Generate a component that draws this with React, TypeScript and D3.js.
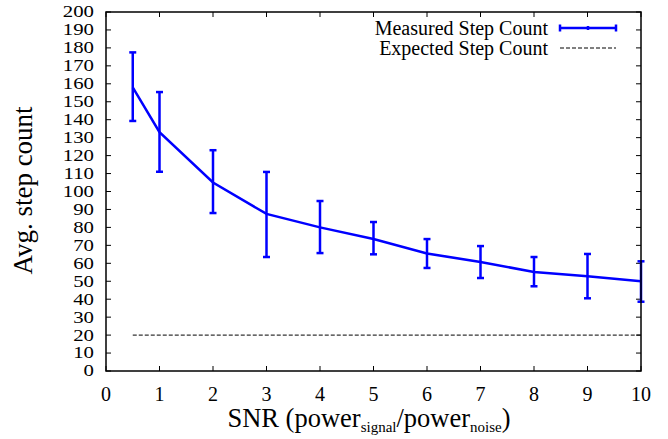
import React from "react";
import * as d3 from "d3";

const snr = [0.5, 1, 2, 3, 4, 5, 6, 7, 8, 9, 10];
const measured = [158, 133, 105, 87.5, 80, 73.5, 65.5, 60.7, 55.2, 52.8, 50];
const errLow = [139.3, 111, 88, 63.5, 65.7, 65, 57.4, 51.8, 47.2, 40.5, 38.6];
const errHigh = [177.5, 155.4, 123, 110.9, 94.7, 83, 73.5, 69.6, 63.5, 65.2, 61.1];
const expectedX = [0.5, 10];
const expectedY = [20, 20];
const xTicks = [0, 1, 2, 3, 4, 5, 6, 7, 8, 9, 10];
const yTicks = d3.range(0, 201, 10);

const W = 668, H = 439;
const L = 106, R = 641, T = 12, B = 371;
const font = "'Liberation Serif', 'Times New Roman', serif";

export default function App() {
  const x = d3.scaleLinear().domain([0, 10]).range([L, R]);
  const y = d3.scaleLinear().domain([0, 200]).range([B, T]);
  const line = d3.line<number>().x((_, i) => x(snr[i])).y((d) => y(d));
  const tk = 5;
  const cap = 3.5;
  return (
    <svg width={W} height={H} style={{ position: "absolute", left: 0, top: 0 }} fontFamily={font}>
      <rect x={0} y={0} width={W} height={H} fill="white" />
      {yTicks.map((t) => (
        <g key={"y" + t}>
          <line x1={L} x2={L + tk} y1={y(t)} y2={y(t)} stroke="black" strokeWidth={1} />
          <line x1={R} x2={R - tk} y1={y(t)} y2={y(t)} stroke="black" strokeWidth={1} />
          <text transform={`translate(94,${y(t)}) scale(1.3,1)`} dy="0.34em" textAnchor="end" fontSize={16} fill="black">{t}</text>
        </g>
      ))}
      {xTicks.map((t) => (
        <g key={"x" + t}>
          <line x1={x(t)} x2={x(t)} y1={B} y2={B - tk} stroke="black" strokeWidth={1} />
          <line x1={x(t)} x2={x(t)} y1={T} y2={T + tk} stroke="black" strokeWidth={1} />
          <text x={x(t)} y={400.5} textAnchor="middle" fontSize={20} fill="black">{t}</text>
        </g>
      ))}
      <line x1={x(expectedX[0])} x2={x(expectedX[1])} y1={y(expectedY[0])} y2={y(expectedY[1])}
        stroke="black" strokeWidth={1} strokeDasharray="4,2" />
      <path d={line(measured) || ""} fill="none" stroke="#0000ff" strokeWidth={2.5} />
      {snr.map((s, i) => (
        <g key={"e" + i} stroke="#0000ff" strokeWidth={2.5}>
          <line x1={x(s)} x2={x(s)} y1={y(errLow[i])} y2={y(errHigh[i])} />
          <line x1={x(s) - cap} x2={x(s) + cap} y1={y(errLow[i])} y2={y(errLow[i])} />
          <line x1={x(s) - cap} x2={x(s) + cap} y1={y(errHigh[i])} y2={y(errHigh[i])} />
        </g>
      ))}
      <rect x={L} y={T} width={R - L} height={B - T} fill="none" stroke="black" strokeWidth={1.5} />
      <text x={548} y={35} textAnchor="end" fontSize={20} fill="black">Measured Step Count</text>
      <text x={548} y={55} textAnchor="end" fontSize={20} fill="black">Expected Step Count</text>
      <g stroke="#0000ff" strokeWidth={2.5}>
        <line x1={560} x2={616} y1={28} y2={28} />
        <line x1={560} x2={560} y1={24.5} y2={31.5} />
        <line x1={616} x2={616} y1={24.5} y2={31.5} />
        <line x1={588} x2={588} y1={26} y2={30} />
      </g>
      <line x1={560} x2={616} y1={48} y2={48} stroke="black" strokeWidth={1} strokeDasharray="4,2" />
      <text transform={`translate(32,190.5) rotate(-90)`} textAnchor="middle" fontSize={27} fill="black">Avg. step count</text>
      <text x={369} y={427} textAnchor="middle" fontSize={26.5} fill="black">
        SNR (power<tspan fontSize={15} dy={5}>signal</tspan><tspan dy={-5}>/power</tspan><tspan fontSize={15} dy={5}>noise</tspan><tspan dy={-5}>)</tspan>
      </text>
    </svg>
  );
}
